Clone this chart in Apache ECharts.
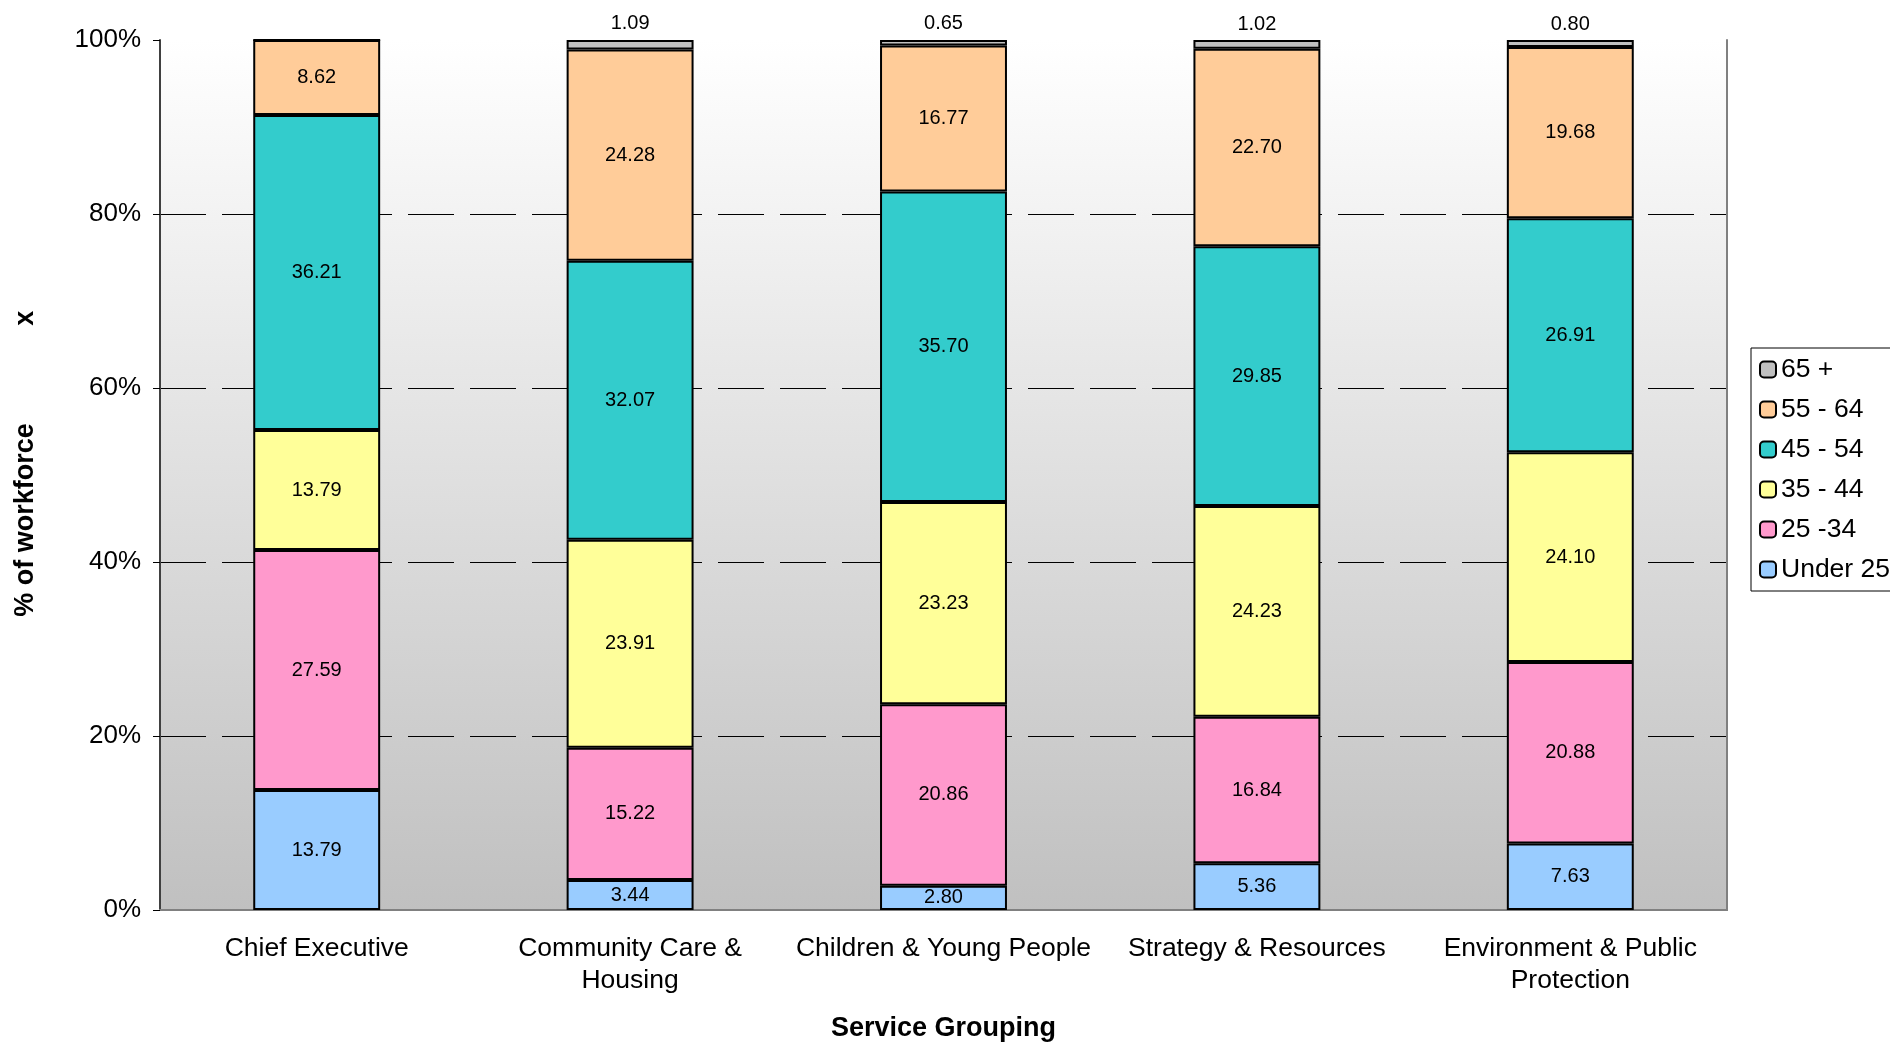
<!DOCTYPE html>
<html>
<head>
<meta charset="utf-8">
<script src="https://cdn.jsdelivr.net/npm/echarts@6/dist/echarts.min.js"></script>
<style>
  html, body { margin: 0; padding: 0; background: #fff; }
  #main { width: 1890px; height: 1042px; }
</style>
</head>
<body>
<div id="main"></div>
<script>
// Data (% of workforce per age band)
var categories = ['Chief Executive', 'Community Care &\nHousing', 'Children & Young People', 'Strategy & Resources', 'Environment & Public\nProtection'];
var under25 = [13.79, 3.44, 2.80, 5.36, 7.63];
var age25to34 = [27.59, 15.22, 20.86, 16.84, 20.88];
var age35to44 = [13.79, 23.91, 23.23, 24.23, 24.10];
var age45to54 = [36.21, 32.07, 35.70, 29.85, 26.91];
var age55to64 = [8.62, 24.28, 16.77, 22.70, 19.68];
var age65plus = [0, 1.09, 0.65, 1.02, 0.80];
var yTicks = [0, 20, 40, 60, 80, 100];

var font = 'Liberation Sans, Arial, sans-serif';

var myChart = echarts.init(document.getElementById('main'));

function band(name, data, color, pos) {
    return {
        name: name,
        type: 'bar',
        stack: 'total',
        barWidth: '40.5%',
        data: data,
        itemStyle: { color: color, borderColor: '#000', borderWidth: 2 },
        label: {
            show: true,
            position: pos || 'inside',
            distance: 6,
            color: '#000',
            fontSize: 20,
            fontFamily: font,
            formatter: function (p) { return p.value ? p.value.toFixed(2) : ''; }
        }
    };
}

var option = {
    backgroundColor: '#fff',
    animation: false,
    grid: {
        left: 160, right: 163, top: 40, bottom: 132,
        outerBoundsMode: 'none',
        containLabel: false,
        show: true,
        borderWidth: 0,
        backgroundColor: {
            type: 'linear', x: 0, y: 0, x2: 0, y2: 1,
            colorStops: [{ offset: 0, color: '#ffffff' }, { offset: 1, color: '#c0c0c0' }]
        }
    },
    legend: {
        orient: 'vertical',
        left: 1751,
        top: 348,
        padding: [8, 40, 8, 8],
        itemWidth: 16,
        itemHeight: 16,
        itemGap: 13,
        backgroundColor: '#fff',
        borderColor: '#000',
        borderWidth: 1,
        borderRadius: 0,
        textStyle: { fontSize: 26.5, color: '#000', fontFamily: font },
        data: ['65 +', '55 - 64', '45 - 54', '35 - 44', '25 -34', 'Under 25']
    },
    xAxis: [{
        type: 'category',
        data: categories,
        name: 'Service Grouping',
        nameLocation: 'middle',
        nameGap: 105,
        nameTextStyle: { fontSize: 27, fontWeight: 'bold', color: '#000', fontFamily: font },
        axisLine: { lineStyle: { color: '#808080', width: 2 } },
        axisTick: { length: 7, lineStyle: { color: '#000' } },
        axisLabel: { interval: 0, margin: 23, fontSize: 26.5, lineHeight: 32, color: '#000', fontFamily: font }
    }, {
        type: 'category',
        position: 'top',
        data: categories,
        axisLine: { lineStyle: { color: '#808080', width: 2 } },
        axisTick: { show: false },
        axisLabel: { show: false }
    }],
    yAxis: [{
        type: 'value',
        min: 0,
        max: 100,
        interval: 20,
        name: '   % of workforce             x',
        nameLocation: 'middle',
        nameGap: 121,
        nameTextStyle: { fontSize: 27, fontWeight: 'bold', color: '#000', fontFamily: font },
        axisLine: { show: true, lineStyle: { color: '#404040', width: 2 } },
        axisTick: { show: true, length: 7, lineStyle: { color: '#000' } },
        axisLabel: {
            margin: 19, fontSize: 26, color: '#000', fontFamily: font,
            formatter: function (v) { return yTicks.indexOf(v) >= 0 ? v + '%' : ''; }
        },
        splitLine: {
            show: true,
            lineStyle: {
                color: ['transparent', '#000', '#000', '#000', '#000', 'transparent'],
                width: 1,
                type: [46, 16]
            }
        }
    }, {
        type: 'value',
        position: 'right',
        axisLine: { show: true, lineStyle: { color: '#808080', width: 2 } },
        axisTick: { show: false },
        axisLabel: { show: false },
        splitLine: { show: false }
    }],
    series: [
        band('Under 25', under25, '#99ccff'),
        band('25 -34', age25to34, '#ff99cc'),
        band('35 - 44', age35to44, '#ffff99'),
        band('45 - 54', age45to54, '#33cccc'),
        band('55 - 64', age55to64, '#ffcc99'),
        band('65 +', age65plus, '#c0c0c0', 'top')
    ]
};

myChart.setOption(option);
</script>
</body>
</html>
